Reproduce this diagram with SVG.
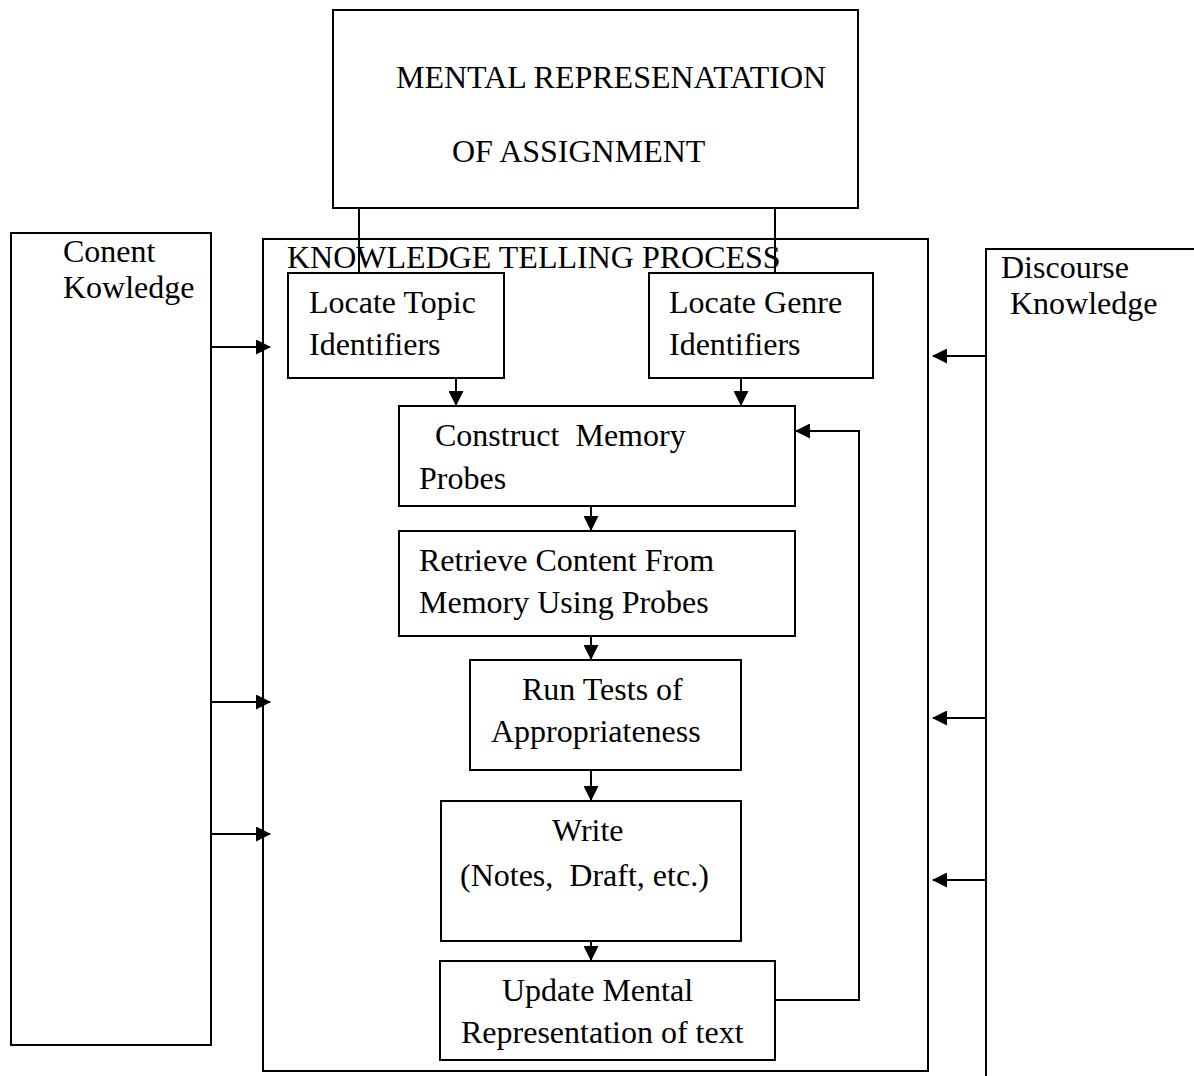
<svg xmlns="http://www.w3.org/2000/svg" width="1194" height="1076" viewBox="0 0 1194 1076">
<style>
.box{fill:#fff;stroke:#000;stroke-width:2}
.ln{fill:none;stroke:#000;stroke-width:2}
text{font-family:"Liberation Serif","Times New Roman",serif;font-size:32px;fill:#000;white-space:pre}
</style>
<defs>
<marker id="ah" viewBox="0 0 15 15" refX="14" refY="7.5" markerWidth="15" markerHeight="15" markerUnits="userSpaceOnUse" orient="auto">
<path d="M0,0 L15,7.5 L0,15 Z" fill="#000"/>
</marker>
</defs>
<rect width="1194" height="1076" fill="#fff"/>
<g id="content-knowledge">
<rect class="box" x="11" y="233" width="200" height="812"/>
<text x="63" y="262">Conent</text>
<text x="63" y="298">Kowledge</text>
</g>
<g id="discourse-knowledge">
<path class="ln" d="M986,1076 L986,249 L1194,249"/>
<text x="1001" y="278">Discourse</text>
<text x="1010" y="314">Knowledge</text>
</g>
<g id="knowledge-telling">
<rect class="box" x="263" y="239" width="665" height="832"/>
<text x="287" y="268">KNOWLEDGE TELLING PROCESS</text>
</g>
<g id="mental-rep">
<rect class="box" x="333" y="10" width="525" height="198"/>
<text x="396" y="88">MENTAL REPRESENATATION</text>
<text x="452" y="162">OF ASSIGNMENT</text>
</g>
<g id="locate-topic">
<rect class="box" x="288" y="273" width="216" height="105"/>
<text x="309" y="313">Locate Topic</text>
<text x="309" y="355">Identifiers</text>
</g>
<g id="locate-genre">
<rect class="box" x="649" y="273" width="224" height="105"/>
<text x="669" y="313">Locate Genre</text>
<text x="669" y="355">Identifiers</text>
</g>
<g id="construct">
<rect class="box" x="399" y="406" width="396" height="100"/>
<text x="435" y="446">Construct  Memory</text>
<text x="419" y="489">Probes</text>
</g>
<g id="retrieve">
<rect class="box" x="399" y="531" width="396" height="105"/>
<text x="419" y="571">Retrieve Content From</text>
<text x="419" y="613">Memory Using Probes</text>
</g>
<g id="run-tests">
<rect class="box" x="470" y="660" width="271" height="110"/>
<text x="522" y="700">Run Tests of</text>
<text x="491" y="742">Appropriateness</text>
</g>
<g id="write">
<rect class="box" x="441" y="801" width="300" height="140"/>
<text x="552" y="841">Write</text>
<text x="460" y="886">(Notes,  Draft, etc.)</text>
</g>
<g id="update">
<rect class="box" x="440" y="961" width="335" height="99"/>
<text x="502" y="1001">Update Mental</text>
<text x="461" y="1043">Representation of text</text>
</g>
<g id="connectors">
<path class="ln" d="M359,208 L359,273"/>
<path class="ln" d="M775,208 L775,273"/>
<path class="ln" d="M456,378 L456,405" marker-end="url(#ah)"/>
<path class="ln" d="M741,378 L741,405" marker-end="url(#ah)"/>
<path class="ln" d="M591,506 L591,530" marker-end="url(#ah)"/>
<path class="ln" d="M591,636 L591,659" marker-end="url(#ah)"/>
<path class="ln" d="M591,770 L591,800" marker-end="url(#ah)"/>
<path class="ln" d="M591,941 L591,960" marker-end="url(#ah)"/>
<path class="ln" d="M775,1000 L859,1000 L859,431 L796,431" marker-end="url(#ah)"/>
<path class="ln" d="M211,347 L270,347" marker-end="url(#ah)"/>
<path class="ln" d="M211,702 L270,702" marker-end="url(#ah)"/>
<path class="ln" d="M211,834 L270,834" marker-end="url(#ah)"/>
<path class="ln" d="M986,356 L933,356" marker-end="url(#ah)"/>
<path class="ln" d="M986,718 L933,718" marker-end="url(#ah)"/>
<path class="ln" d="M986,880 L933,880" marker-end="url(#ah)"/>
</g>
</svg>
